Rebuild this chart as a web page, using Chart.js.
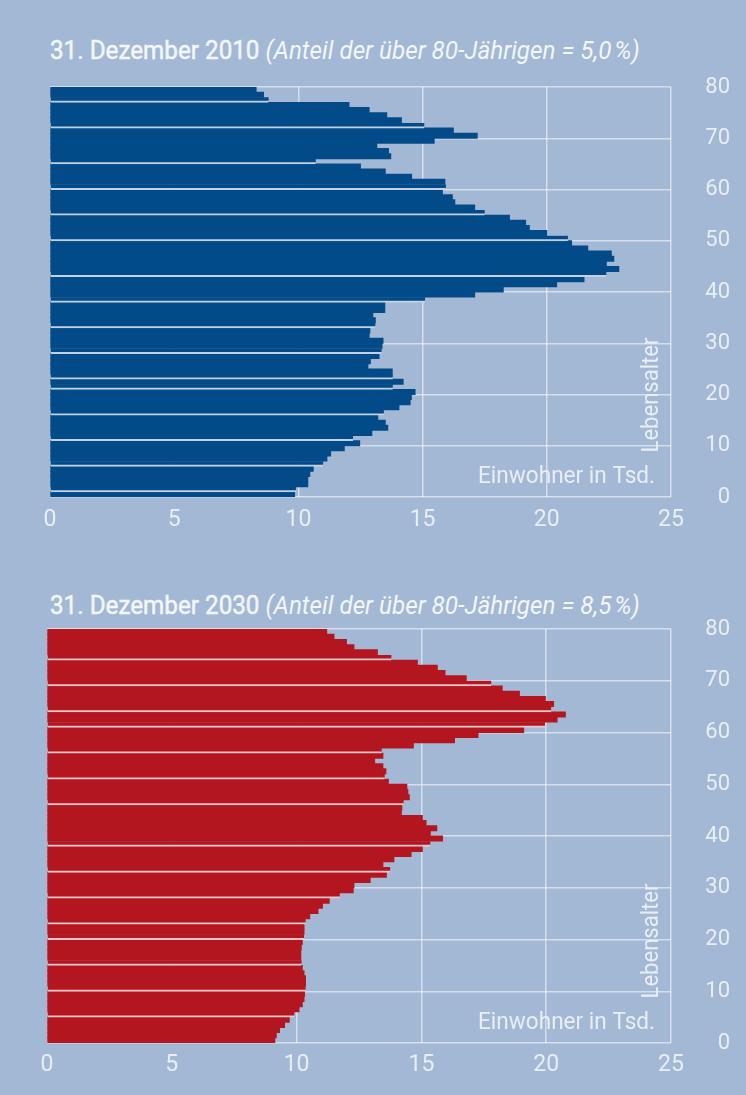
<!DOCTYPE html>
<html><head><meta charset="utf-8">
<script src="https://cdn.jsdelivr.net/npm/chart.js@4.4.1/dist/chart.umd.min.js"></script>
<style>
html,body{margin:0;padding:0;background:#a3b8d4;width:746px;height:1095px;overflow:hidden;}
.title{position:absolute;left:50px;white-space:nowrap;color:#f3f6fa;font-family:Roboto,'Open Sans',sans-serif;font-size:26px;line-height:30px;transform-origin:0 50%;}
.title b{font-weight:400;-webkit-text-stroke:0.5px #f3f6fa;}
.title i{font-style:italic;font-weight:400;}
.wrap{position:absolute;left:0;width:746px;}
</style></head><body>
<div class="title" id="t1" style="top:35px"><b>31. Dezember 2010</b> <i>(Anteil der über 80-Jährigen = 5,0&#8239;%)</i></div>
<div class="wrap" style="top:60px;height:490px"><canvas id="c1"></canvas></div>
<div class="title" id="t2" style="top:590px"><b>31. Dezember 2030</b> <i>(Anteil der über 80-Jährigen = 8,5&#8239;%)</i></div>
<div class="wrap" style="top:600px;height:490px"><canvas id="c2"></canvas></div>
<script>
// Age categories (age in years, bar spans age .. age+1)
const ages = [0,1,2,3,4,5,6,7,8,9,10,11,12,13,14,15,16,17,18,19,20,21,22,23,24,25,26,27,28,29,
  30,31,32,33,34,35,36,37,38,39,40,41,42,43,44,45,46,47,48,49,50,51,52,53,54,55,56,57,58,59,
  60,61,62,63,64,65,66,67,68,69,70,71,72,73,74,75,76,77,78,79];

// Einwohner in Tsd., 31.12.2010 (ages 0..79)
const pop2010 = [9.85,9.9,10.38,10.38,10.46,10.6,11.0,11.15,11.3,11.85,
  12.47,12.2,12.96,13.6,13.5,13.2,13.44,14.05,14.5,14.55,
  14.7,13.8,14.22,13.8,13.78,12.8,12.9,13.25,13.35,13.37,
  13.41,12.85,12.88,13.1,13.1,13.0,13.48,13.48,15.1,17.1,
  18.25,20.4,21.5,22.4,22.9,22.4,22.7,22.6,21.65,21.0,
  20.85,20.0,19.3,19.15,18.5,17.5,17.1,16.3,16.2,15.8,
  15.94,15.9,14.56,13.5,12.5,10.7,13.72,13.63,13.16,15.47,
  17.2,16.24,15.07,14.15,13.56,12.85,12.04,8.8,8.6,8.3];

// Einwohner in Tsd., 31.12.2030 (ages 0..79)
const pop2030 = [9.13,9.19,9.32,9.52,9.71,9.91,10.1,10.23,10.3,10.32,
  10.36,10.36,10.36,10.3,10.23,10.2,10.17,10.17,10.19,10.23,
  10.3,10.3,10.3,10.36,10.53,10.86,11.04,11.31,11.73,12.27,
  12.3,12.95,13.6,13.75,13.46,13.9,14.59,15.04,15.36,15.85,
  15.36,15.62,15.19,15.04,14.2,14.22,14.29,14.52,14.46,14.42,
  13.68,13.53,13.58,13.46,13.13,13.46,13.41,14.68,16.33,17.27,
  19.1,19.95,20.44,20.77,20.2,20.3,19.97,18.93,18.24,17.8,
  16.8,15.95,15.64,14.84,13.8,13.24,12.3,12.0,11.5,11.21];

// Ages at which a white separator line crosses the bars
const sep2010 = [1,6,11,16,21,23,28,33,38,43,50,55,60,65,72,77];
const sep2030 = [5,10,15,20,23,28,33,38,46,51,56,61,64,69,74];

const xTicks = [0,5,10,15,20,25];
const yTicks = [0,10,20,30,40,50,60,70,80];
const xTitle = 'Einwohner in Tsd.';
const yTitle = 'Lebensalter';

const FONT = 'Roboto, "Open Sans", sans-serif';
const TXT = '#e9eef5';

const overlay = {
  id: 'overlay',
  afterDatasetsDraw(chart) {
    const {ctx, chartArea: a} = chart;
    ctx.save();
    ctx.fillStyle = TXT;
    ctx.font = '400 23px ' + FONT;
    const w = ctx.measureText(xTitle).width;
    ctx.translate(a.right - 16, a.bottom - 20);
    ctx.scale(177 / w, 1);
    ctx.textAlign = 'right';
    ctx.textBaseline = 'middle';
    ctx.fillText(xTitle, 0, 0);
    ctx.restore();

    ctx.save();
    ctx.fillStyle = TXT;
    ctx.font = '400 23px ' + FONT;
    const w2 = ctx.measureText(yTitle).width;
    ctx.translate(a.right - 19, a.bottom - 102);
    ctx.rotate(-Math.PI / 2);
    ctx.scale(115 / w2, 1);
    ctx.textAlign = 'center';
    ctx.textBaseline = 'middle';
    ctx.fillText(yTitle, 0, 0);
    ctx.restore();
  }
};

function makeChart(id, values, seps, color, sepColor, leftPad, topPad, xAxisH, xPad) {
  const sepSet = new Set(seps);
  return new Chart(document.getElementById(id), {
    type: 'bar',
    data: {
      datasets: [{
        data: ages.map((a, i) => ({x: values[i], y: a + 0.5})),
        backgroundColor: color,
        borderColor: sepColor,
        borderWidth: ctx => sepSet.has(ages[ctx.dataIndex]) ? {top: 0, right: 0, bottom: 2, left: 0} : 0,
        borderSkipped: false,
        barPercentage: 1,
        categoryPercentage: 1,
        inflateAmount: 0.4
      }]
    },
    options: {
      indexAxis: 'y',
      responsive: true,
      maintainAspectRatio: false,
      animation: false,
      layout: {padding: {left: leftPad, right: 16, top: topPad, bottom: 0}},
      plugins: {legend: {display: false}, tooltip: {enabled: false}},
      scales: {
        x: {
          type: 'linear', min: 0, max: 25,
          afterBuildTicks: s => { s.ticks = xTicks.map(v => ({value: v})); },
          afterFit: s => { s.height = xAxisH; },
          border: {display: false},
          grid: {
            drawTicks: false, lineWidth: 1.5,
            color: c => c.tick && c.tick.value === 0 ? 'rgba(0,0,0,0)' : 'rgba(255,255,255,0.55)'
          },
          ticks: {color: TXT, padding: xPad, font: {family: FONT, size: 23}}
        },
        y: {
          type: 'linear', position: 'right', min: 0, max: 80, offset: false,
          afterBuildTicks: s => { s.ticks = yTicks.map(v => ({value: v})); },
          afterFit: s => { s.width = 59; s.paddingTop = 0; s.paddingBottom = 0; },
          border: {display: false},
          grid: {drawTicks: false, lineWidth: 1.5, offset: false, color: 'rgba(255,255,255,0.55)'},
          ticks: {color: TXT, padding: 34, crossAlign: 'far', font: {family: FONT, size: 22}}
        }
      }
    },
    plugins: [overlay]
  });
}

makeChart('c1', pop2010, sep2010, '#024b88', '#c3d1e4', 50, 27, 53, 9);
makeChart('c2', pop2030, sep2030, '#b41620', '#ecc6cb', 47, 29, 47, 8);

for (const id of ['t1', 't2']) {
  const el = document.getElementById(id);
  el.style.transform = 'scaleX(' + (590 / el.offsetWidth) + ')';
}
</script>
</body></html>
